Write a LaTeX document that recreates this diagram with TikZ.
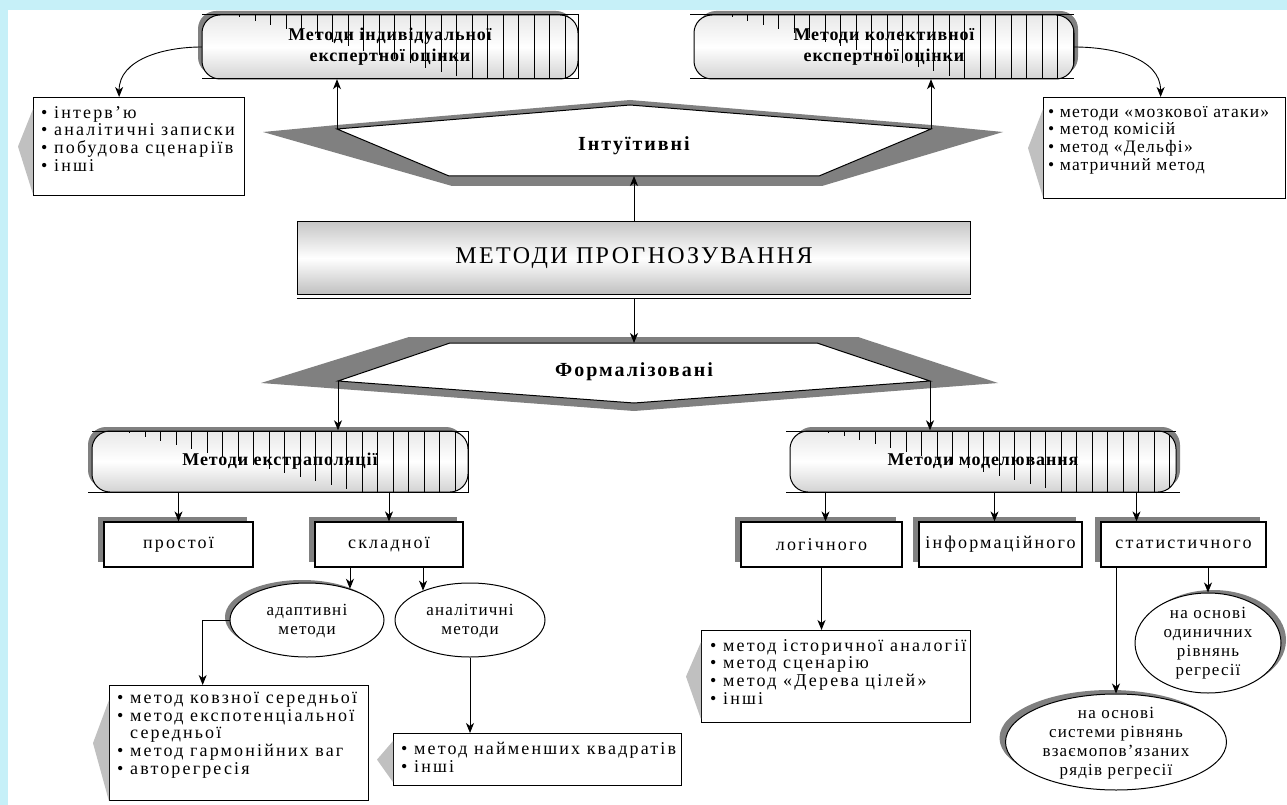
\documentclass[tikz,border=0pt]{standalone}
\usepackage{fontspec}
\setmainfont{Liberation Serif}
\newfontfamily\fLst[LetterSpace=12]{Liberation Serif}
\newfontfamily\fLsn[LetterSpace=7]{Liberation Serif}
\newfontfamily\fEll[LetterSpace=7]{Liberation Serif}
\newfontfamily\fLbl[LetterSpace=5]{Liberation Serif}
\newfontfamily\fTtl[LetterSpace=10]{Liberation Serif}
\usetikzlibrary{arrows.meta,calc,shapes.geometric,shadows}
\definecolor{sgray}{RGB}{128,128,128}
\definecolor{pgray}{RGB}{192,192,192}
\definecolor{bgcyan}{RGB}{198,240,248}
\newcommand\txtL{\fLst\fontsize{18}{17.7}\selectfont}
\newcommand\txtN{\fLsn\fontsize{17.5}{17.7}\selectfont}
\newcommand\txtE{\fEll\fontsize{17}{19}\selectfont}
\newcommand\txtB{\fLbl\bfseries\fontsize{18}{21}\selectfont}
\newcommand\txtH{\fTtl\bfseries\fontsize{20}{24}\selectfont}
\newcommand\txtT{\fTtl\fontsize{24}{28}\selectfont}
\newcommand\hatchbox[4]{%
  \begin{scope}
  \clip[rounded corners=18pt] (#1,#2) rectangle (#3,#4);
  \pgfmathsetmacro\hwid{#3-#1}
  \pgfmathsetmacro\hxs{#1+0.1*\hwid}
  \pgfmathsetmacro\hxf{#1+0.72*\hwid}
  \foreach \k in {0,...,30}{%
    \pgfmathsetmacro\hxx{\hxs+\k*15.5}
    \pgfmathsetmacro\hff{min(1,(\hxx-\hxs+6)/(\hxf-\hxs))}
    \pgfmathtruncatemacro\hok{\hxx<#3?1:0}
    \ifnum\hok=1 \draw[line width=0.7pt] (\hxx,#2) -- (\hxx,{#2+\hff*(#4-#2)});\fi
  }
  \end{scope}}
\begin{document}
\begin{tikzpicture}[x=1pt,y=-1pt,
  arr/.style={-{Stealth[length=10pt,width=8pt,inset=3pt]}, line width=0.9pt},
  btnfill/.style={draw, line width=1pt, rounded corners=18pt, top color=gray!18, bottom color=gray!35, middle color=white},
  btnlbl/.style={font=\txtB, align=center, inner sep=0pt},
  lstbox/.style={draw, line width=1.2pt, fill=white, anchor=north west, inner sep=0pt},
  lsttxt/.style={anchor=north west, align=left, inner sep=0pt, font=\txtL},
  smallbox/.style={draw, line width=1.2pt, fill=white, minimum height=45pt, font=\txtL, inner sep=0pt,
    drop shadow={shadow xshift=-6pt, shadow yshift=5pt, fill=sgray, opacity=1}},
  ell/.style={draw, line width=1pt, fill=white, ellipse, inner sep=0pt},
  elltxt/.style={font=\txtE, align=center, inner sep=0pt},
  ptr/.style={fill=pgray}]
\useasboundingbox (0,0) rectangle (1287,805);
\fill[bgcyan] (0,0) rectangle (1287,805);
\fill[white] (8,10) rectangle (1287,805);

% ---- top buttons
\fill[sgray, rounded corners=18pt] (198,11) rectangle (574,75);
\draw[btnfill] (202,15) rectangle (578,79);
\hatchbox{202}{15}{578}{79}
\draw[line width=1pt] (202,15) -- (578,15) -- (578,79) -- (202,79);
\node[btnlbl, minimum width=376pt, minimum height=64pt] (b1) at (390,47) {Методи індивідуальної\\експертної оцінки};

\fill[sgray, rounded corners=18pt] (698,11) rectangle (1078,75);
\draw[btnfill] (694,15) rectangle (1074,79);
\hatchbox{694}{15}{1074}{79}
\draw[line width=1pt] (1074,15) -- (690,15) (690,79) -- (1074,79);
\node[btnlbl, minimum width=380pt, minimum height=64pt] (b2) at (884,47) {Методи колективної\\експертної оцінки};

% ---- lists top
\node[lstbox, minimum width=211pt, minimum height=98pt] (L1) at (33,97) {};
\node[lsttxt] (L1t) at (41,106)
  {\textbullet\ інтерв’ю\\\textbullet\ аналітичні записки\\\textbullet\ побудова сценаріїв\\\textbullet\ інші};
\fill[ptr] ($(L1.north west)+(0,12)$) -- ($(L1.west)+(-15,0)$) -- ($(L1.south west)+(0,-2)$) -- cycle;
\node[lstbox, minimum width=242pt, minimum height=101pt] (R1) at (1043,97) {};
\node[lsttxt, font=\txtN] (R1t) at (1048,106)
  {\textbullet\ методи «мозкової атаки»\\\textbullet\ метод комісій\\\textbullet\ метод «Дельфі»\\\textbullet\ матричний метод};
\fill[ptr] ($(R1.north west)+(0,12)$) -- ($(R1.west)+(-15,0)$) -- ($(R1.south west)+(0,-2)$) -- cycle;

\draw[arr] (b1.west) to[out=180,in=90] ([xshift=-20pt]L1.north);
\draw[arr] (b2.east) to[out=0,in=90] ([xshift=-4pt]R1.north);

% ---- hexagon 1
\fill[sgray] (263,132) -- (337,125) -- (630,100) -- (931,125) -- (1003,132) -- (822,186) -- (452,186) -- cycle;
\draw[line width=1pt, fill=white] (337,129) -- (630,105) -- (931,129) -- (819,176) -- (449,176) -- cycle;
\coordinate (h1l) at (337,129);
\coordinate (h1r) at (931,129);
\coordinate (h1b) at (634,176);
\node[font=\txtH, inner sep=0pt] (h1) at (634,146) {Інтуїтивні};
\draw[arr] (h1l) -- (h1l |- b1.south);
\draw[arr] (h1r) -- (h1r |- b2.south);

% ---- title
\node[draw, line width=1.2pt, minimum width=673pt, minimum height=73pt, top color=gray!45, bottom color=gray!50, middle color=white, font=\txtT] (title) at (634,258) {МЕТОДИ ПРОГНОЗУВАННЯ};
\draw[line width=1pt] ($(title.south west)+(0,3)$) -- ($(title.south east)+(0,3)$);
\draw[arr] (title.north) -- (h1b);

% ---- hexagon 2
\fill[sgray] (409,337) -- (858,337) -- (998,383) -- (634,411) -- (261,383) -- cycle;
\draw[line width=1pt, fill=white] (450,343) -- (817,343) -- (930,381) -- (634,403) -- (338,381) -- cycle;
\coordinate (h2l) at (338,381);
\coordinate (h2r) at (930,381);
\coordinate (h2t) at (634,343);
\node[font=\txtH, inner sep=0pt] (h2) at (634,372) {Формалізовані};
\draw[arr] ($(title.south)+(0,3)$) -- (h2t);

% ---- middle buttons
\fill[sgray, rounded corners=18pt] (88,427) rectangle (464,488);
\draw[btnfill] (92,431) rectangle (468,492);
\hatchbox{92}{431}{468}{492}
\draw[line width=1pt] (92,431) -- (468,431) -- (468,492) -- (88,492);
\node[btnlbl, minimum width=376pt, minimum height=61pt] (b3) at (280,461) {Методи екстраполяції};

\fill[sgray, rounded corners=18pt] (794,427) rectangle (1180,488);
\draw[btnfill] (790,431) rectangle (1176,492);
\hatchbox{790}{431}{1176}{492}
\draw[line width=1pt] (1176,431) -- (786,431) (786,492) -- (1180,492);
\node[btnlbl, minimum width=386pt, minimum height=61pt] (b4) at (983,461) {Методи моделювання};

\draw[arr] (h2l) -- (h2l |- b3.north);
\draw[arr] (h2r) -- (h2r |- b4.north);

% ---- small boxes
\node[smallbox, minimum width=149pt] (pr) at (178.5,544.5) {простої};
\node[smallbox, minimum width=148pt] (sk) at (389,544.5) {складної};
\node[smallbox, minimum width=161pt] (lo) at (821.5,544.5) {логічного};
\node[smallbox, minimum width=163pt] (inf) at (1000.5,544.5) {інформаційного};
\node[smallbox, minimum width=165pt] (st) at (1183.5,544.5) {статистичного};

\draw[arr] (pr.north |- b3.south) -- (pr.north);
\draw[arr] (sk.north |- b3.south) -- (sk.north);
\draw[arr] ([xshift=4pt]lo.north |- b4.south) -- ([xshift=4pt]lo.north);
\draw[arr] ([xshift=-6pt]inf.north |- b4.south) -- ([xshift=-6pt]inf.north);
\draw[arr] ([xshift=-47pt]st.north |- b4.south) -- ([xshift=-47pt]st.north);

% ---- ellipses
\node[ell, minimum width=154pt, minimum height=74pt, drop shadow={shadow xshift=-5pt, shadow yshift=3pt, fill=sgray, opacity=1}] (ad) at (307,620) {};
\node[elltxt] (adt) at (307,621) {адаптивні\\методи};
\node[ell, minimum width=150pt, minimum height=74pt] (an) at (470,620) {};
\node[elltxt] (ant) at (470,621) {аналітичні\\методи};
\node[ell, minimum width=221pt, minimum height=96pt, drop shadow={shadow xshift=-6pt, shadow yshift=4pt, fill=sgray, opacity=1}] (se) at (1116,742) {};
\node[elltxt] (set) at (1116,743) {на основі\\системи рівнянь\\взаємопов’язаних\\рядів регресії};
\node[ell, minimum width=146pt, minimum height=100pt, drop shadow={shadow xshift=5pt, shadow yshift=3pt, fill=sgray, opacity=1}] (oe) at (1208,643) {};
\node[elltxt] (oet) at (1208,643) {на основі\\одиничних\\рівнянь\\регресії};

\draw[arr] (ad.36 |- sk.south) -- (ad.36);
\draw[arr] (an.148 |- sk.south) -- (an.148);
\draw[arr] (se.north |- st.south) -- (se.north);
\draw[arr] (oe.north |- st.south) -- (oe.north);

% ---- bottom lists
\node[lstbox, minimum width=259pt, minimum height=115pt] (L2) at (109,685) {};
\node[lsttxt] (L2t) at (117,692)
  {\textbullet\ метод ковзної середньої\\\textbullet\ метод експотенціальної\\\phantom{\textbullet\ }середньої\\\textbullet\ метод гармонійних ваг\\\textbullet\ авторегресія};
\fill[ptr] ($(L2.north west)+(0,15)$) -- ($(L2.west)+(-16,0)$) -- (L2.south west) -- cycle;
\node[lstbox, minimum width=288pt, minimum height=52pt] (L3) at (393,733) {};
\node[lsttxt] (L3t) at (401,742)
  {\textbullet\ метод найменших квадратів\\\textbullet\ інші};
\fill[ptr] ($(L3.north west)+(0,8)$) -- ($(L3.west)+(-16,0)$) -- ($(L3.south west)+(0,-4)$) -- cycle;
\node[lstbox, minimum width=269pt, minimum height=92pt] (L4) at (701,630) {};
\node[lsttxt] (L4t) at (710,639)
  {\textbullet\ метод історичної аналогії\\\textbullet\ метод сценарію\\\textbullet\ метод «Дерева цілей»\\\textbullet\ інші};
\fill[ptr] ($(L4.north west)+(0,12)$) -- ($(L4.west)+(-15,0)$) -- ($(L4.south west)+(0,-4)$) -- cycle;

\draw[arr] (ad.west) -| ($(L2.north west)!0.36!(L2.north east)$);
\draw[arr] (an.south) -- (an.south |- L3.north);
\draw[arr] (lo.south) -- (lo.south |- L4.north);
\end{tikzpicture}
\end{document}
